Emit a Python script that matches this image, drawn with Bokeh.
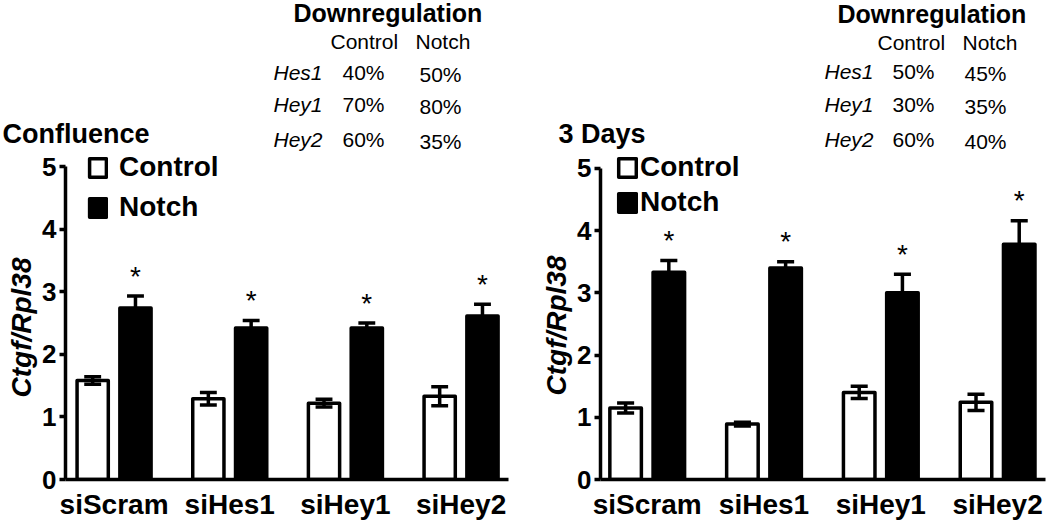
import numpy as np
from bokeh.plotting import figure
from bokeh.models import FixedTicker, Label, Legend, LegendItem, Range1d, Title
from bokeh.layouts import row, column
from bokeh.embed import file_html
from bokeh.resources import INLINE
from bokeh.core.properties import value

# ---------------- data ----------------
categories = ["siScram", "siHes1", "siHey1", "siHey2"]

conf_control = [1.58, 1.29, 1.22, 1.33]
conf_control_err = [0.06, 0.10, 0.06, 0.15]
conf_notch = [2.74, 2.42, 2.42, 2.61]
conf_notch_err = [0.19, 0.12, 0.08, 0.19]

day3_control = [1.15, 0.89, 1.40, 1.24]
day3_control_err = [0.08, 0.03, 0.10, 0.13]
day3_notch = [3.33, 3.40, 3.00, 3.78]
day3_notch_err = [0.19, 0.10, 0.30, 0.38]

genes = ["Hes1", "Hey1", "Hey2"]
conf_down_control = [40, 70, 60]
conf_down_notch = [50, 80, 35]
day3_down_control = [50, 30, 60]
day3_down_notch = [45, 35, 40]

y_ticks = [0, 1, 2, 3, 4, 5]

FONT = "Liberation Sans"
W, H = 1050, 524
TOP_H = 152

# ---------------- header strip (titles + downregulation tables) ----------------
top = figure(width=W, height=TOP_H, x_range=Range1d(0, W), y_range=Range1d(TOP_H, 0),
             output_backend="svg", toolbar_location=None,
             x_axis_location=None, y_axis_location=None,
             min_border_left=0, min_border_right=0, min_border_top=0, min_border_bottom=0)
top.outline_line_color = None
top.grid.visible = False


def tlab(px, py, text, size, style="normal"):
    # baseline correction for the label renderer
    top.add_layout(Label(x=px, y=py - 0.3 * size, text=text, text_font=FONT,
                         text_font_size=f"{size}px", text_font_style=style,
                         text_align="left", text_baseline="alphabetic",
                         text_color="black"))


def table(t, dctrl, dnotch):
    tlab(t["head_x"], t["head_y"], "Downregulation", 25, "bold")
    tlab(t["ctrl_hx"], t["sub_y"], "Control", 21)
    tlab(t["notch_hx"], t["sub_y"], "Notch", 21)
    for gname, vc, vn, yb in zip(genes, dctrl, dnotch, t["rows"]):
        tlab(t["gene_x"], yb, gname, 21, "italic")
        tlab(t["ctrl_x"], yb, f"{vc}%", 21)
        tlab(t["notch_x"], yb + 2, f"{vn}%", 21)


tlab(2, 142, "Confluence", 27, "bold")
tlab(558, 142, "3 Days", 27, "bold")
table(dict(head_x=293, head_y=19.5, sub_y=47, ctrl_hx=330, notch_hx=415,
           gene_x=273, ctrl_x=342, notch_x=419, rows=[78, 110, 145]),
      conf_down_control, conf_down_notch)
table(dict(head_x=837, head_y=21, sub_y=48, ctrl_hx=877, notch_hx=962,
           gene_x=824, ctrl_x=892, notch_x=964, rows=[77, 110, 145]),
      day3_down_control, day3_down_notch)


# ---------------- bar panels ----------------
def make_panel(ctrl, ctrl_err, notch, notch_err, g):
    height = H - TOP_H
    fb = H - g["mbb"]                 # page y of frame bottom
    sy = (fb - g["y5"]) / 5.0
    y_end = (fb - TOP_H) / sy

    p = figure(width=g["width"], height=height,
               x_range=Range1d(g["x0"], g["x1"]), y_range=Range1d(0, y_end),
               output_backend="svg", toolbar_location=None,
               min_border_left=g["mbl"], min_border_right=g["mbr"],
               min_border_top=0, min_border_bottom=g["mbb"])
    p.outline_line_color = None
    p.grid.visible = False

    idx = np.arange(len(categories))
    cx = idx - 0.185
    nx = idx + 0.185
    bw = 0.27

    r_ctrl = p.vbar(x=cx, top=ctrl, bottom=0, width=bw, fill_color="white",
                    line_color="black", line_width=3.5, line_join="round")
    r_notch = p.vbar(x=nx, top=notch, bottom=0, width=bw, fill_color="black",
                     line_color="black", line_width=3.5, line_join="round")

    cap = 0.073
    for xs, m, e in ((cx, ctrl, ctrl_err), (nx, notch, notch_err)):
        lo = np.array(m) - np.array(e)
        hi = np.array(m) + np.array(e)
        p.segment(x0=xs, y0=lo, x1=xs, y1=hi, line_color="black", line_width=3.5)
        p.segment(x0=xs - cap, y0=hi, x1=xs + cap, y1=hi, line_color="black", line_width=3.5)
        p.segment(x0=xs - cap, y0=lo, x1=xs + cap, y1=lo, line_color="black", line_width=3.5)

    star_y = np.array(notch) + np.array(notch_err)
    p.text(x=nx, y=star_y, text=["*"] * len(categories), text_align="center",
           text_baseline="middle", y_offset=-20, text_font=value(FONT),
           text_font_size="28px", text_color="black")

    ya = p.yaxis[0]
    ya.bounds = (0, 5)
    ya.ticker = FixedTicker(ticks=y_ticks)
    ya.minor_tick_line_color = None
    ya.major_tick_in = 0
    ya.major_tick_out = 6
    ya.axis_line_width = 3.5
    ya.major_tick_line_width = 3.5
    ya.major_label_standoff = 3
    ya.major_label_text_font = FONT
    ya.major_label_text_font_size = "26px"
    ya.major_label_text_font_style = "bold"
    ya.major_label_text_color = "black"

    xa = p.xaxis[0]
    xa.ticker = FixedTicker(ticks=list(idx))
    xa.major_label_overrides = {int(i): c for i, c in zip(idx, categories)}
    xa.minor_tick_line_color = None
    xa.major_tick_in = 0
    xa.major_tick_out = 0
    xa.axis_line_width = 3.5
    xa.major_label_standoff = 9
    xa.major_label_text_font = FONT
    xa.major_label_text_font_size = "28px"
    xa.major_label_text_font_style = "bold"
    xa.major_label_text_color = "black"

    ylab = Title(text="Ctgf/Rpl38", align="left", offset=g["ylab_offset"],
                 standoff=g["ylab_standoff"], text_font=FONT, text_font_size="28px",
                 text_font_style="bold italic", text_color="black")
    p.add_layout(ylab, "left")

    legend = Legend(items=[LegendItem(label="Control", renderers=[r_ctrl]),
                           LegendItem(label="Notch", renderers=[r_notch])],
                    location=g["leg_loc"], orientation="vertical",
                    padding=0, margin=0, spacing=g["leg_spacing"],
                    glyph_width=g["leg_gw"], glyph_height=23,
                    label_standoff=g["leg_standoff"],
                    label_text_font=FONT, label_text_font_size="28px",
                    label_text_font_style="bold", label_text_color="black",
                    border_line_color=None, background_fill_alpha=0)
    p.add_layout(legend, "center")
    return p


left_geom = dict(width=525, mbl=62, mbr=17, mbb=45, x0=-0.42, x1=3.41, y5=166,
                 ylab_offset=82, ylab_standoff=6,
                 leg_loc=(22, 256), leg_spacing=8, leg_gw=21, leg_standoff=11)
right_geom = dict(width=525, mbl=75, mbr=5, mbb=42, x0=-0.40, x1=3.41, y5=168,
                  ylab_offset=84, ylab_standoff=5,
                  leg_loc=(16, 261), leg_spacing=3, leg_gw=22, leg_standoff=2)

p1 = make_panel(conf_control, conf_control_err, conf_notch, conf_notch_err, left_geom)
p2 = make_panel(day3_control, day3_control_err, day3_notch, day3_notch_err, right_geom)

layout = column(top, row(p1, p2))
open("out.html", "w").write(file_html(layout, INLINE))
